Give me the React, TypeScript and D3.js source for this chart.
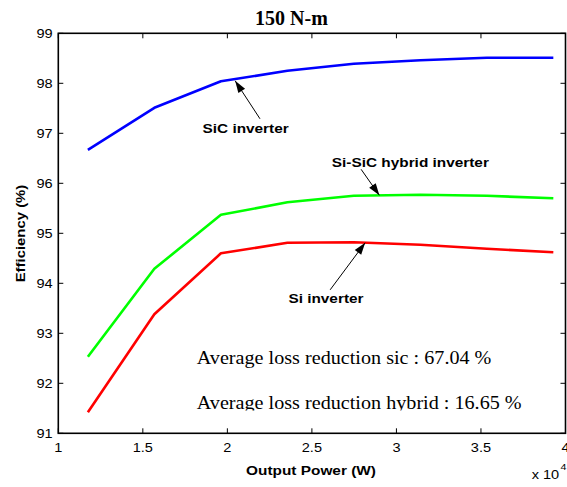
import React from 'react';
import * as d3 from 'd3';

// Output power in units of 10^4 W
const power = [1.175, 1.568, 1.962, 2.355, 2.748, 3.142, 3.535, 3.928];
// Efficiency (%) for each inverter type
const sicEff = [96.67, 97.51, 98.04, 98.25, 98.39, 98.46, 98.51, 98.51];
const hybridEff = [92.53, 94.29, 95.37, 95.62, 95.75, 95.77, 95.75, 95.7];
const siEff = [91.42, 93.38, 94.6, 94.81, 94.82, 94.77, 94.69, 94.62];

const seriesNames = ['SiC inverter', 'Si-SiC hybrid inverter', 'Si inverter'];
const seriesColors = ['#0000ff', '#00ff00', '#ff0000'];

const xTicks = [1, 1.5, 2, 2.5, 3, 3.5, 4];
const yTicks = [91, 92, 93, 94, 95, 96, 97, 98, 99];

const title = '150 N-m';
const xLabel = 'Output Power (W)';
const yLabel = 'Efficiency (%)';
const notes = ['Average loss reduction sic : 67.04 %', 'Average loss reduction hybrid : 16.65 %'];

// Callout placement in data units: label anchor, arrow tail, arrow tip
const callouts = [
  { label: [1.853, 97.0], tail: [2.193, 97.29], tip: [2.046, 98.05] },
  { label: [2.618, 96.33], tail: [2.791, 96.28], tip: [2.899, 95.76] },
  { label: [2.361, 93.61], tail: [2.608, 93.87], tip: [2.815, 94.81] },
];
const notePos = [[1.819, 92.39], [1.819, 91.48]];

const W = 567;
const H = 487;
const M = { left: 58.3, right: 565.5, top: 33.3, bottom: 433.3 };

const sans = "'Liberation Sans', Arial, sans-serif";
const serif = "'Liberation Serif', 'Times New Roman', serif";

function arrowHead(tail: number[], tip: number[], len = 12, half = 4) {
  const dx = tip[0] - tail[0];
  const dy = tip[1] - tail[1];
  const d = Math.hypot(dx, dy);
  const ux = dx / d, uy = dy / d;
  const bx = tip[0] - ux * len, by = tip[1] - uy * len;
  const px = -uy * half, py = ux * half;
  return `M${tip[0]},${tip[1]}L${bx + px},${by + py}L${bx - px},${by - py}Z`;
}

export default function App() {
  const x = d3.scaleLinear().domain([1, 4]).range([M.left, M.right]);
  const y = d3.scaleLinear().domain([91, 99]).range([M.bottom, M.top]);
  const line = d3
    .line<[number, number]>()
    .x((d) => x(d[0]))
    .y((d) => y(d[1]));
  const series = [sicEff, hybridEff, siEff];
  const tickLen = 5;
  const sx = 1.12;

  return (
    <svg
      width={W}
      height={H}
      style={{ position: 'absolute', left: 0, top: 0, background: '#fff' }}
    >
      <defs>
        <clipPath id="noteClip">
          <rect x={0} y={0} width={W} height={410.5} />
        </clipPath>
      </defs>
      <rect width={W} height={H} fill="#fff" />

      {/* data lines */}
      {series.map((vals, i) => (
        <path
          key={i}
          d={line(power.map((p, j) => [p, vals[j]]) as [number, number][]) || ''}
          fill="none"
          stroke={seriesColors[i]}
          strokeWidth={2.6}
          strokeLinejoin="round"
        />
      ))}

      {/* axes box with inward ticks */}
      <rect
        x={M.left}
        y={M.top}
        width={M.right - M.left}
        height={M.bottom - M.top}
        fill="none"
        stroke="#000"
        strokeWidth={1.6}
      />
      {xTicks.map((t) => (
        <g key={'xt' + t}>
          <line x1={x(t)} x2={x(t)} y1={M.bottom} y2={M.bottom - tickLen} stroke="#000" strokeWidth={1} />
          <line x1={x(t)} x2={x(t)} y1={M.top} y2={M.top + tickLen} stroke="#000" strokeWidth={1} />
          <text
            transform={`translate(${x(t)},451.5) scale(${sx},1)`}
            textAnchor="middle"
            fontFamily={sans}
            fontSize={13}
          >
            {t}
          </text>
        </g>
      ))}
      {yTicks.map((t) => (
        <g key={'yt' + t}>
          <line x1={M.left} x2={M.left + tickLen} y1={y(t)} y2={y(t)} stroke="#000" strokeWidth={1} />
          <line x1={M.right} x2={M.right - tickLen} y1={y(t)} y2={y(t)} stroke="#000" strokeWidth={1} />
          <text
            transform={`translate(52.7,${y(t) + 4.6}) scale(${sx},1)`}
            textAnchor="end"
            fontFamily={sans}
            fontSize={13}
          >
            {t}
          </text>
        </g>
      ))}

      {/* exponent marker */}
      <text transform={`translate(531.7,479.3) scale(${sx},1)`} fontFamily={sans} fontSize={13}>
        x 10
      </text>
      <text transform={`translate(560.5,470) scale(${sx},1)`} fontFamily={sans} fontSize={9.5}>
        4
      </text>

      {/* title and axis labels */}
      <text x={291.5} y={25} textAnchor="middle" fontFamily={serif} fontWeight="bold" fontSize={20}>
        {title}
      </text>
      <text
        transform={`translate(311,475) scale(1.14,1)`}
        textAnchor="middle"
        fontFamily={sans}
        fontWeight="bold"
        fontSize={13.5}
      >
        {xLabel}
      </text>
      <text
        transform={`translate(25,233.5) rotate(-90) scale(1.12,1)`}
        textAnchor="middle"
        fontFamily={sans}
        fontWeight="bold"
        fontSize={13.3}
      >
        {yLabel}
      </text>

      {/* callouts */}
      {callouts.map((c, i) => {
        const tail = [x(c.tail[0]), y(c.tail[1])];
        const tip = [x(c.tip[0]), y(c.tip[1])];
        return (
          <g key={'c' + i}>
            <line x1={tail[0]} y1={tail[1]} x2={tip[0]} y2={tip[1]} stroke="#000" strokeWidth={1} />
            <path d={arrowHead(tail, tip)} fill="#000" />
            <text
              transform={`translate(${x(c.label[0])},${y(c.label[1])}) scale(1.13,1)`}
              fontFamily={sans}
              fontWeight="bold"
              fontSize={13.6}
            >
              {seriesNames[i]}
            </text>
          </g>
        );
      })}

      {/* loss-reduction notes */}
      <g clipPath="url(#noteClip)">
        {notes.map((n, i) => (
          <text
            key={'n' + i}
            transform={`translate(${x(notePos[i][0])},${y(notePos[i][1])}) scale(1.09,1)`}
            fontFamily={serif}
            fontSize={18.5}
          >
            {n}
          </text>
        ))}
      </g>
    </svg>
  );
}
